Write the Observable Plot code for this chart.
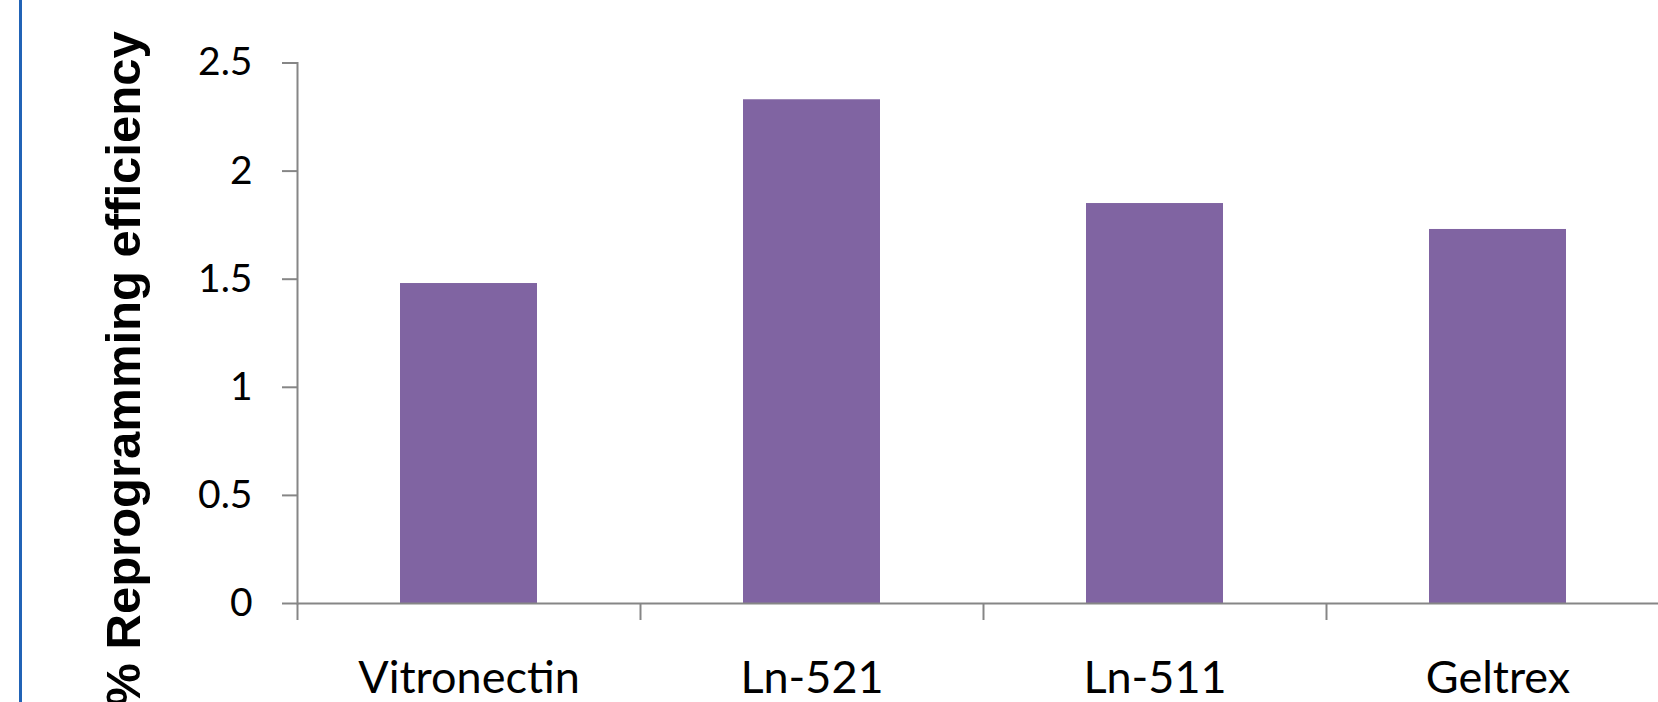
<!DOCTYPE html>
<html>
<head>
<meta charset="utf-8">
<script src="https://cdn.jsdelivr.net/npm/d3@7"></script>
<script src="https://cdn.jsdelivr.net/npm/@observablehq/plot@0.6"></script>
<style>
  html, body { margin: 0; padding: 0; background: #fff; overflow: hidden; }
  #chart { position: relative; width: 1658px; height: 702px; }
  #chart svg { display: block; }
  #edge { position: absolute; left: 19px; top: 0; width: 3px; height: 702px; background: #2163B6; }
</style>
</head>
<body>
<div id="chart"><div id="edge"></div></div>
<script>
const categories = ["Vitronectin", "Ln-521", "Ln-511", "Geltrex"];
const values = [1.48, 2.33, 1.85, 1.73];
const yTicks = [0, 0.5, 1, 1.5, 2, 2.5];
const yLabel = ["% Reprogramming efficiency"];

const data = categories.map((c, i) => ({category: c, value: values[i]}));

const W = 1658, H = 702;
const mLeft = 297, mRight = -11, mTop = 62.5, mBottom = 99;
const step = (W - mLeft - mRight) / categories.length;
const axisColor = "#868686";
const frameMidY = mTop + (H - mTop - mBottom) / 2;

const chart = Plot.plot({
  width: W,
  height: H,
  marginLeft: mLeft,
  marginRight: mRight,
  marginTop: mTop,
  marginBottom: mBottom,
  style: {background: "transparent", color: "#000"},
  x: {domain: categories, paddingInner: 0.6, paddingOuter: 0.3, align: 0.5},
  y: {domain: [0, 2.5]},
  marks: [
    Plot.barY(data, {x: "category", y: "value", fill: "#8064A2"}),
    // x-axis baseline
    Plot.ruleY([0], {stroke: axisColor, strokeWidth: 2}),
    // y-axis line
    Plot.frame({anchor: "left", stroke: axisColor, strokeWidth: 2}),
    // y ticks + labels
    Plot.axisY({
      ticks: yTicks,
      tickSize: 15,
      tickPadding: 30,
      tickFormat: d => String(d),
      stroke: axisColor,
      strokeWidth: 2,
      strokeOpacity: 1,
      fontSize: 39,
      fontFamily: "Lato",
      fill: "#000",
      label: null
    }),
    // x ticks at band boundaries
    Plot.axisX({
      tickSize: 17,
      text: null,
      dx: -step / 2,
      stroke: axisColor,
      strokeWidth: 2,
      strokeOpacity: 1,
      label: null
    }),
    // x labels
    Plot.axisX({
      tickSize: 0,
      tickPadding: 58,
      fontSize: 45,
      fontFamily: "Lato",
      fill: "#000",
      label: null
    }),
    // y title
    Plot.text(yLabel, {
      text: d => d,
      frameAnchor: "left",
      rotate: -90,
      textAnchor: "middle",
      dx: 124 - mLeft,
      dy: 368.5 - frameMidY,
      fontSize: 49,
      fontWeight: "bold",
      fontFamily: "Liberation Sans, Arial, sans-serif",
      fill: "#000"
    })
  ]
});
document.getElementById("chart").appendChild(chart);
</script>
</body>
</html>
